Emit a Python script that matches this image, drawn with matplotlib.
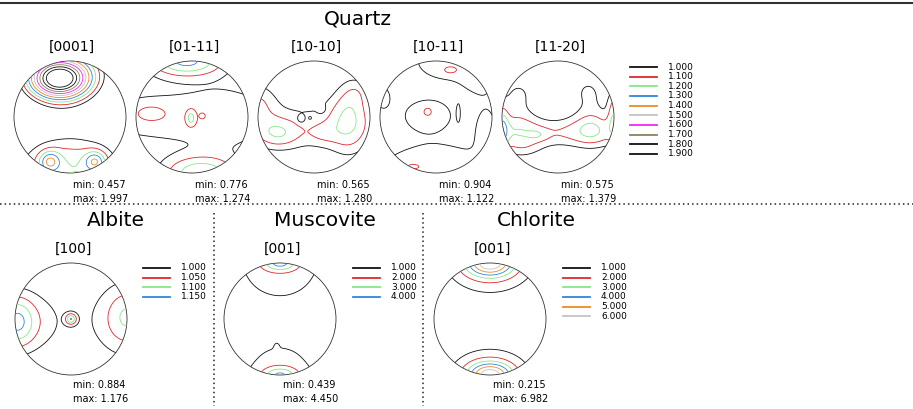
import numpy as np
import matplotlib.pyplot as plt
from matplotlib.lines import Line2D
from matplotlib.patches import Circle

W, H = 913, 409

# ---- data -------------------------------------------------------------
quartz_dirs = ["[0001]", "[01-11]", "[10-10]", "[10-11]", "[11-20]"]
quartz_min = [0.457, 0.776, 0.565, 0.904, 0.575]
quartz_max = [1.997, 1.274, 1.280, 1.122, 1.379]
quartz_levels = [1.0, 1.1, 1.2, 1.3, 1.4, 1.5, 1.6, 1.7, 1.8, 1.9]

albite_levels = [1.0, 1.05, 1.1, 1.15]
muscovite_levels = [1.0, 2.0, 3.0, 4.0]
chlorite_levels = [1.0, 2.0, 3.0, 4.0, 5.0, 6.0]

level_colors = ["#111111", "#e0262b", "#86e886", "#2f86e0", "#f08a24",
                "#c4c4c4", "#f02af0", "#8c8060", "#111111", "#111111"]

# density maxima: (x, y, height, width_x, width_y)
# in unit-circle coordinates, x to the right, y up
q0001_base = 0.45
q0001_peaks = [(-0.2, 0.68, 1.2, 0.42, 0.28), (0.0, 0.9, 0.45, 0.9, 0.5),
               (0.0, -0.95, 0.75, 1.1, 0.68), (-0.36, -0.79, 0.3, 0.13, 0.13),
               (0.45, -0.79, 0.3, 0.13, 0.13)]
q0111_base = 0.86
q0111_peaks = [(0.0, 0.0, 0.2, 2.0, 0.45), (0.6, -0.05, 0.04, 0.35, 0.6),
               (-0.75, 0.07, 0.1, 0.22, 0.12), (-0.02, -0.02, 0.18, 0.06, 0.10),
               (0.18, 0.02, 0.1, 0.03, 0.03), (-0.1, 1.0, 0.45, 0.5, 0.2),
               (0.15, -1.0, 0.4, 0.5, 0.22)]
q1010_base = 0.8
q1010_peaks = [(0.0, -0.15, 0.22, 1.5, 0.45), (-0.65, -0.3, 0.22, 0.3, 0.2),
               (0.62, 0.0, 0.24, 0.25, 0.5), (0.15, -0.3, 0.1, 0.2, 0.15),
               (-1.0, 0.3, 0.2, 0.25, 0.3), (0.8, 0.5, 0.1, 0.2, 0.2),
               (-0.23, -0.04, -0.12, 0.05, 0.05), (0.13, 0.14, -0.12, 0.05, 0.05),
               (-0.07, -0.02, -0.08, 0.02, 0.02)]
q1011_base = 0.9
q1011_peaks = [(0.2, 1.0, 0.17, 0.5, 0.3), (0.8, 0.65, 0.12, 0.25, 0.25),
               (0.25, 0.83, 0.08, 0.10, 0.05), (-0.95, 0.35, 0.15, 0.12, 0.18),
               (-0.15, 0.05, 0.17, 0.35, 0.22), (-0.15, 0.11, 0.06, 0.05, 0.05),
               (0.4, 0.08, 0.11, 0.025, 0.12), (0.0, -1.0, 0.18, 0.9, 0.45),
               (0.9, -0.2, 0.15, 0.15, 0.3), (-0.43, -0.88, 0.06, 0.12, 0.05)]
q1120_base = 0.8
q1120_peaks = [(0.0, -0.28, 0.28, 1.6, 0.22), (-0.75, 0.1, 0.18, 0.3, 0.55),
               (0.6, 0.15, 0.18, 0.3, 0.55), (-0.65, 0.45, 0.07, 0.25, 0.2),
               (0.45, 0.5, 0.07, 0.25, 0.2), (-0.37, -0.32, 0.08, 0.12, 0.07),
               (0.58, -0.2, 0.05, 0.15, 0.17), (-1.0, -0.2, 0.25, 0.08, 0.3),
               (1.0, 0.1, 0.25, 0.08, 0.3), (-0.6, -0.6, 0.1, 0.3, 0.15)]
albite_base = 0.93
albite_peaks = [(-1.0, -0.05, 0.14, 0.6, 0.45), (-0.95, -0.05, 0.1, 0.2, 0.3),
                (1.0, 0.0, 0.13, 0.5, 0.55), (0.98, 0.05, 0.05, 0.2, 0.3),
                (0.0, 0.0, 0.17, 0.07, 0.07)]
muscovite_base = 0.44
muscovite_peaks = [(0.0, 1.0, 2.9, 0.22, 0.10), (0.0, 1.0, 1.1, 0.55, 0.5),
                   (0.0, -1.0, 2.7, 0.22, 0.10), (0.0, -1.0, 1.05, 0.45, 0.42),
                   (-0.06, -0.47, 0.15, 0.04, 0.06)]
chlorite_base = 0.2
chlorite_peaks = [(0.0, 1.0, 5.0, 0.30, 0.17), (0.0, 1.0, 1.8, 0.55, 0.40),
                  (0.0, -1.0, 5.0, 0.28, 0.16), (0.0, -1.0, 1.7, 0.50, 0.35)]

quartz_fields = [(q0001_base, q0001_peaks), (q0111_base, q0111_peaks),
                 (q1010_base, q1010_peaks), (q1011_base, q1011_peaks),
                 (q1120_base, q1120_peaks)]

# ---- helpers ----------------------------------------------------------
fig = plt.figure(figsize=(W / 100, H / 100), dpi=100)


def fx(x):
    return x / W


def fy(y):
    return 1 - y / H


g = np.linspace(-1.02, 1.02, 241)
X, Y = np.meshgrid(g, g)


def density(base, peaks):
    Z = np.full_like(X, base)
    for x0, y0, a, sx, sy in peaks:
        Z += a * np.exp(-((X - x0) ** 2 / (2 * sx ** 2) + (Y - y0) ** 2 / (2 * sy ** 2)))
    return Z


def pole_figure(cx, cy, base, peaks, levels, r=56):
    pad = 1.03
    ax = fig.add_axes([fx(cx - r * pad), fy(cy + r * pad), 2 * r * pad / W, 2 * r * pad / H])
    ax.set_xlim(-pad, pad)
    ax.set_ylim(-pad, pad)
    ax.axis("off")
    Z = density(base, peaks)
    clip = Circle((0, 0), 1.0, transform=ax.transData, facecolor="none", edgecolor="none")
    ax.add_patch(clip)
    for lv, col in zip(levels, level_colors):
        if Z.min() < lv < Z.max():
            cs = ax.contour(X, Y, Z, levels=[lv], colors=[col], linewidths=0.6)
            cs.set_clip_path(clip)
    ax.add_patch(Circle((0, 0), 1.0, fill=False, ec="#333333", lw=0.6))
    return ax


def legend(x0, y0, levels):
    for i, lv in enumerate(levels):
        y = y0 + i * 9.65
        fig.add_artist(Line2D([fx(x0), fx(x0 + 27)], [fy(y), fy(y)],
                              color=level_colors[i], lw=1.3))
        fig.text(fx(x0 + 38), fy(y), f"{lv:.3f}", fontsize=6.5, va="center", ha="left")


def minmax(x, y, lo, hi):
    fig.text(fx(x), fy(y), f"min: {lo:.3f}", fontsize=7, va="center", ha="left")
    fig.text(fx(x), fy(y + 14), f"max: {hi:.3f}", fontsize=7, va="center", ha="left")


# ---- frame lines ------------------------------------------------------
fig.add_artist(Line2D([0, 1], [fy(3), fy(3)], color="#333333", lw=1.5))
fig.add_artist(Line2D([0, 1], [fy(204), fy(204)], color="#222222", lw=1.1, ls=(0, (1, 2))))
for xv in [214, 423]:
    fig.add_artist(Line2D([fx(xv), fx(xv)], [fy(213), fy(406)], color="#222222",
                          lw=1.1, ls=(0, (1, 2))))

# ---- quartz -----------------------------------------------------------
fig.text(fx(358), fy(19), "Quartz", fontsize=14.5, ha="center", va="center")
for i, (lbl, (base, peaks)) in enumerate(zip(quartz_dirs, quartz_fields)):
    cx = 70 + i * 122
    fig.text(fx(cx + 2), fy(47), lbl, fontsize=10, ha="center", va="center")
    pole_figure(cx, 117, base, peaks, quartz_levels)
    minmax(cx + 3, 185, quartz_min[i], quartz_max[i])
legend(630, 67, quartz_levels)

# ---- albite -----------------------------------------------------------
fig.text(fx(116), fy(221), "Albite", fontsize=14.5, ha="center", va="center")
fig.text(fx(73), fy(249), "[100]", fontsize=10, ha="center", va="center")
pole_figure(71, 319, albite_base, albite_peaks, albite_levels)
legend(143, 268, albite_levels)
minmax(73, 385, 0.884, 1.176)

# ---- muscovite --------------------------------------------------------
fig.text(fx(325), fy(221), "Muscovite", fontsize=14.5, ha="center", va="center")
fig.text(fx(282), fy(249), "[001]", fontsize=10, ha="center", va="center")
pole_figure(280, 319, muscovite_base, muscovite_peaks, muscovite_levels)
legend(353, 268, muscovite_levels)
minmax(283, 385, 0.439, 4.450)

# ---- chlorite ---------------------------------------------------------
fig.text(fx(536), fy(221), "Chlorite", fontsize=14.5, ha="center", va="center")
fig.text(fx(492), fy(249), "[001]", fontsize=10, ha="center", va="center")
pole_figure(490, 319, chlorite_base, chlorite_peaks, chlorite_levels)
legend(563, 268, chlorite_levels)
minmax(493, 385, 0.215, 6.982)

fig.savefig("out.png", dpi=100)
